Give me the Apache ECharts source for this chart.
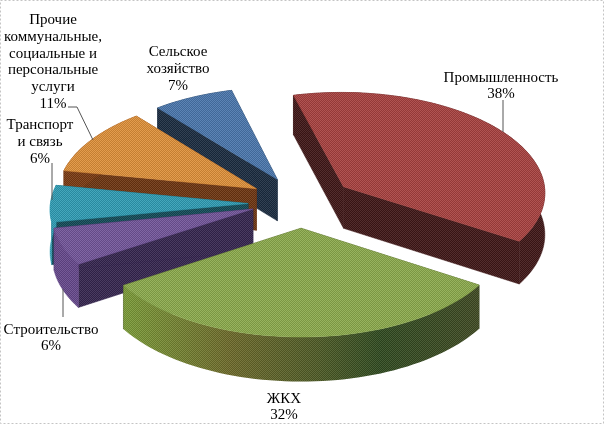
<!DOCTYPE html>
<html><head><meta charset="utf-8">
<style>html,body{margin:0;padding:0;background:#fff}#c{width:605px;height:425px}</style>
<script src="https://cdn.jsdelivr.net/npm/echarts@6/dist/echarts.min.js"></script>
</head><body><div id="c"></div>
<script>
const categories = ['Промышленность','ЖКХ','Строительство','Транспорт и связь','Прочие коммунальные, социальные и персональные услуги','Сельское хозяйство'];
const values = [38,32,6,6,11,7];
const labelText = [
 'Промышленность\n38%','ЖКХ\n32%','Строительство\n6%','Транспорт\nи связь\n6%',
 'Прочие\nкоммунальные,\nсоциальные и\nперсональные\nуслуги\n11%','Сельское\nхозяйство\n7%'];
const topColors = ['#a8413f','#8cab4c','#72559a','#2f9db5','#e0913a','#4a77ad'];
const sideColors = ['#3f1616','#3d4a22','#35254f','#124a57','#6e3510','#1b2c40'];
const arcColors = ['#3f1616',null,'#66488c','#2f9db5','#7a3a12','#1b2c40'];
const explodeX = [46,3,-45,-50,-42,-21];
const explodeY = [41,-42,-4,7,37,56];
const radii = [203,203,200,198,200,199];
const paintOrder = [5,4,3,2,1,0];
const labelPos = [[501,86],[284,407],[51,338],[40,142],[53,62],[178,69]];
const leaders = [
 [[503,100],[503,132]],
 [[63,289],[63,317]],
 [[52,163],[52,200]],
 [[68,107],[77,107],[93,140]]
];
const startAngle = -14.5, cx = 298, cy = 207, squash = 0.5, persp = 0.05, depth = 42;

const total = values.reduce((a,b)=>a+b,0);
const starts = []; let acc = startAngle;
values.forEach(v=>{starts.push(acc); acc += v/total*360;});
const rad = d => d*Math.PI/180;
function proj(x,y,z){ const s = 1 - persp*y/200; return [cx + x*s, cy - y*squash*s + z*s]; }

const tex = document.createElement('canvas'); tex.width = tex.height = 2;
(function(){ const g = tex.getContext('2d');
  g.fillStyle='rgba(255,255,255,0.10)'; g.fillRect(0,0,1,1); g.fillRect(1,1,1,1);
  g.fillStyle='rgba(0,0,0,0.12)'; g.fillRect(1,0,1,1); g.fillRect(0,1,1,1); })();
const texFill = {image:tex, repeat:'repeat'};

function poly(pts,fill){
  return [
    {type:'polygon',shape:{points:pts},style:{fill:fill,stroke:typeof fill==='string'?fill:null,lineWidth:0.5}},
    {type:'polygon',shape:{points:pts},style:{fill:texFill}}
  ];
}
function sliceShapes(i){
  const a0 = starts[i], a1 = a0 + values[i]/total*360, R = radii[i];
  const ox = explodeX[i], oy = explodeY[i];
  const arcTop=[], arcBot=[];
  for(let a=a0;;a+=2){ const t=Math.min(a,a1);
    const x=ox+R*Math.sin(rad(t)), y=oy+R*Math.cos(rad(t));
    arcTop.push(proj(x,y,0)); arcBot.push(proj(x,y,depth));
    if(t>=a1)break; }
  const apexT=proj(ox,oy,0), apexB=proj(ox,oy,depth), n=arcTop.length-1;
  let arcFill = arcColors[i];
  if(i===1){
    arcFill={type:'linear',x:0,y:0,x2:1,y2:0,colorStops:[
      {offset:0,color:'#7b9c38'},{offset:0.3,color:'#6d6a2a'},{offset:0.55,color:'#4d5a25'},
      {offset:0.72,color:'#2f4a1f'},{offset:1,color:'#3f4a22'}]};
  }
  return [].concat(
    poly([apexT,arcTop[0],arcBot[0],apexB],sideColors[i]),
    poly([apexT,arcTop[n],arcBot[n],apexB],sideColors[i]),
    poly(arcTop.concat(arcBot.slice().reverse()),arcFill),
    poly([apexT].concat(arcTop),topColors[i])
  );
}

const sliceSeries = paintOrder.map((i,rank)=>({
  type:'custom', name:categories[i], coordinateSystem:'none', silent:true, z:rank+2,
  data:[values[i]],
  renderItem:()=>({type:'group',children:sliceShapes(i)})
}));

const chart = echarts.init(document.getElementById('c'),null,{renderer:'canvas'});
chart.setOption({
  animation:false, backgroundColor:'#fff',
  series:sliceSeries,
  graphic:{elements:[
    {type:'rect',z:100,shape:{x:0.5,y:0.5,width:603,height:423},style:{fill:'none',stroke:'#c4c4c4',lineWidth:1,lineDash:[2,2]}},
    ...leaders.map(p=>({type:'polyline',z:100,shape:{points:p},style:{fill:'none',stroke:'#555',lineWidth:1}})),
    ...labelText.map((t,i)=>({type:'text',z:101,x:labelPos[i][0],y:labelPos[i][1],
      style:{text:t,fill:'#000',font:'15px "Liberation Serif"',lineHeight:16.8,align:'center',verticalAlign:'middle'}}))
  ]}
});
</script></body></html>
